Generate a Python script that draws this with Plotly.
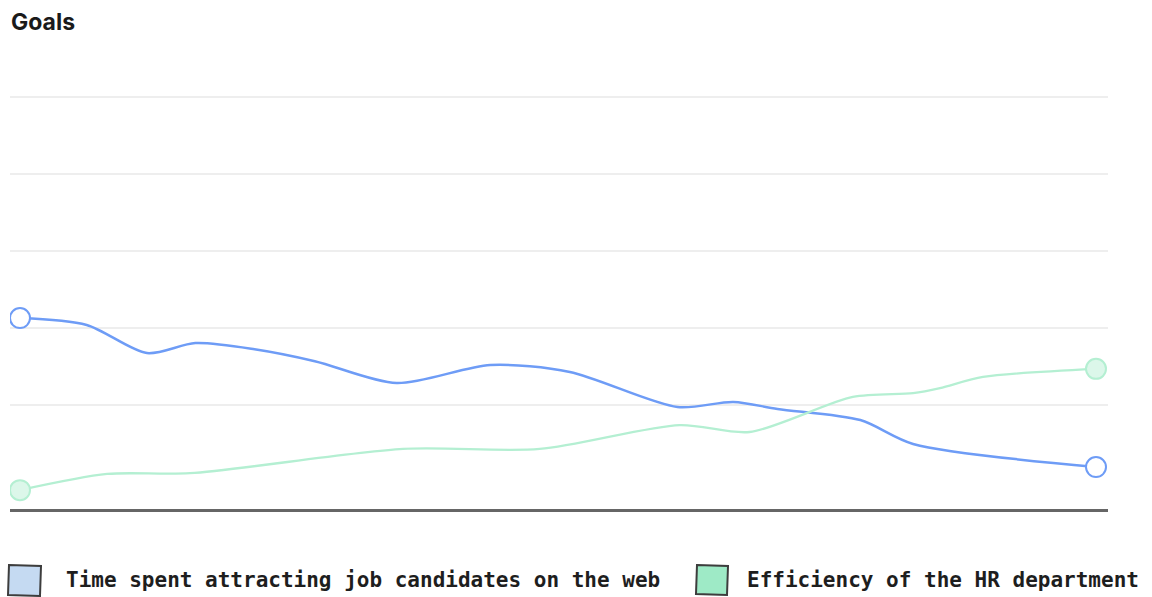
import plotly.graph_objects as go

# Time axis (0 = start of period, 100 = end of period)
time_x = [0, 6.2, 11.8, 16.3, 21.8, 27.4, 35.0, 43.7, 51.1, 61.1, 66.3, 70.4, 78.1, 83.0, 100]
time_spent = [52.6, 50.8, 43.5, 46.1, 44.5, 41.4, 35.7, 40.4, 38.6, 29.5, 30.8, 29.0, 26.1, 19.9, 13.9]

eff_x = [0, 8.1, 15.8, 35.6, 48.3, 61.3, 67.8, 77.4, 83.0, 85.5, 89.5, 100]
efficiency = [7.9, 12.1, 12.3, 18.6, 18.6, 24.8, 23.0, 32.1, 33.1, 34.4, 37.3, 39.4]

grid_vals = [30, 50, 70, 90, 110]
series_names = ["Time spent attracting job candidates on the web", "Efficiency of the HR department"]

BLUE = "#6e9cf6"
GREEN = "#b4efd2"
BLUE_BOX = "#c5daf2"
GREEN_BOX = "#9eeac6"

W, H = 1152, 597
L, R, T, B = 10, 44, 60, 88
pw, ph = W - L - R, H - T - B


def px_x(px):
    return (px - L) / pw


def px_y(py):
    return (H - B - py) / ph


fig = go.Figure()

fig.add_trace(go.Scatter(
    x=time_x, y=time_spent, mode="lines", name=series_names[0],
    line=dict(color=BLUE, width=2.5, shape="spline", smoothing=0.8),
    showlegend=False, hoverinfo="skip"))
fig.add_trace(go.Scatter(
    x=eff_x, y=efficiency, mode="lines", name=series_names[1],
    line=dict(color=GREEN, width=2.3, shape="spline", smoothing=0.8),
    showlegend=False, hoverinfo="skip"))

# end-point markers
fig.add_trace(go.Scatter(
    x=[time_x[0], time_x[-1]], y=[time_spent[0], time_spent[-1]], mode="markers",
    marker=dict(size=20, color="white", line=dict(color=BLUE, width=2)),
    showlegend=False, hoverinfo="skip"))
fig.add_trace(go.Scatter(
    x=[eff_x[0], eff_x[-1]], y=[efficiency[0], efficiency[-1]], mode="markers",
    marker=dict(size=20, color="#dcf7ea", line=dict(color=GREEN, width=2)),
    showlegend=False, hoverinfo="skip"))

# hand-drawn legend boxes
def sketch_box(x0, y0, x1, y1, fill):
    pts = [(x0 + 1, y0), (x1 + 1, y0 + 1), (x1, y1), (x0, y1 - 1)]
    path = "M " + " L ".join(f"{px_x(a):.5f},{px_y(b):.5f}" for a, b in pts) + " Z"
    fig.add_shape(type="path", path=path, xref="paper", yref="paper",
                  fillcolor=fill, line=dict(color="#3d3d3d", width=2), layer="above")


sketch_box(8, 565, 40, 596, BLUE_BOX)
sketch_box(696, 565, 727, 595, GREEN_BOX)

for text, px in zip(series_names, [64, 745]):
    fig.add_annotation(text=f"<b>{text}</b>", xref="paper", yref="paper", x=px_x(px), y=px_y(580),
                       xanchor="left", yanchor="middle", showarrow=False,
                       font=dict(family="DejaVu Sans Mono", size=21, color="#1e1e1e"))

fig.add_annotation(text="<b>Goals</b>", xref="paper", yref="paper", x=px_x(9), y=px_y(22),
                   xanchor="left", yanchor="middle", showarrow=False,
                   font=dict(family="Inter", size=23, color="#1a1a1a"))

fig.update_layout(
    width=W, height=H, margin=dict(l=L, r=R, t=T, b=B),
    paper_bgcolor="white", plot_bgcolor="white",
    xaxis=dict(range=[-(20 - L) / 10.76, 100 + (1108 - 1096) / 10.76], showgrid=False,
               zeroline=False, showticklabels=False, ticks="",
               showline=True, linecolor="#666666", linewidth=2.5),
    yaxis=dict(range=[3, 3 + ph / 3.85], tickvals=grid_vals, showticklabels=False,
               ticks="", showgrid=True, gridcolor="#eeeeee", gridwidth=2,
               zeroline=False, showline=False),
)

fig.write_html("out.html")
